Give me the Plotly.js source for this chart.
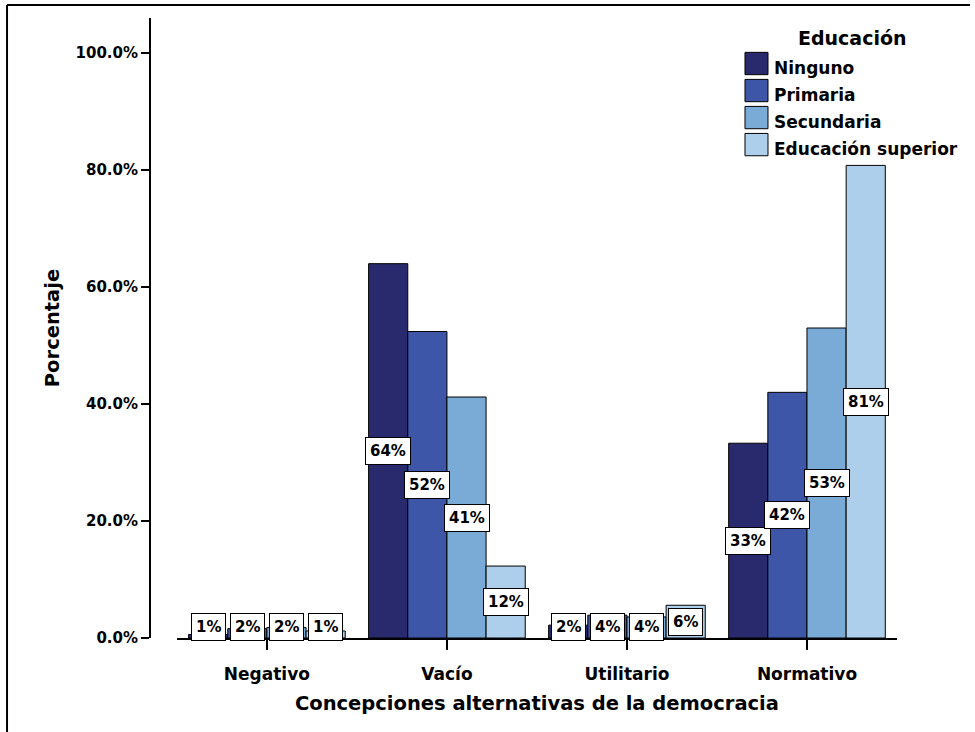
<!DOCTYPE html>
<html>
<head>
<meta charset="utf-8">
<script src="https://cdn.plot.ly/plotly-3.0.1.min.js"></script>
<style>html,body{margin:0;padding:0;background:#fff;}#chart{width:975px;height:732px;}</style>
</head>
<body>
<div id="chart"></div>
<script>
// ---- data ----
const categories = ['Negativo', 'Vacío', 'Utilitario', 'Normativo'];
const seriesNames = ['Ninguno', 'Primaria', 'Secundaria', 'Educación superior'];
const ninguno    = [0.6, 64.0, 2.2, 33.3];
const primaria   = [1.6, 52.4, 3.9, 42.0];
const secundaria = [1.8, 41.2, 3.6, 53.0];
const superior   = [1.2, 12.3, 5.6, 80.8];
const yTickVals  = [0, 20, 40, 60, 80, 100];
const yTickText  = ['0.0%', '20.0%', '40.0%', '60.0%', '80.0%', '100.0%'];
const legendTitle = 'Educación';
const xTitle = 'Concepciones alternativas de la democracia';
const yTitle = 'Porcentaje';

// ---- styling ----
const colors = ['#292a6e', '#3d56a8', '#7aaad6', '#aecfec'];
const FONT = 'DejaVu Sans, Arial, sans-serif';
const bargap = 0.13;
const series = [ninguno, primaria, secundaria, superior];

const traces = series.map((vals, j) => ({
  type: 'bar',
  name: seriesNames[j],
  x: categories,
  y: vals,
  marker: {color: colors[j], line: {color: '#000', width: 1}},
  showlegend: false,
  hoverinfo: 'x+y+name'
}));

// value labels (boxed) placed through the axis scales
const annotations = [];
const w = (1 - bargap) / series.length;
series.forEach((vals, j) => {
  vals.forEach((v, i) => {
    const small = v / 2 < 2.3;
    annotations.push({
      x: i + (j - (series.length - 1) / 2) * w,
      xref: 'x', yref: 'y',
      y: small ? 0 : v / 2,
      yanchor: small ? 'bottom' : 'middle',
      yshift: small ? -3 : 0,
      text: Math.round(v) + '%',
      showarrow: false,
      font: {family: FONT, size: 15, color: '#000', weight: 'bold'},
      bgcolor: '#fff', bordercolor: '#000', borderwidth: 1, borderpad: 4
    });
  });
});

// manual legend (large swatches like the reference)
const shapes = [];
const legX0 = 0.7965, legX1 = 0.8273, legTop = 0.9266, rowH = 0.0436, swH = 0.0360;
annotations.push({
  xref: 'paper', yref: 'paper', x: 0.9398, y: 0.9677, xanchor: 'center', yanchor: 'middle',
  text: legendTitle, showarrow: false,
  font: {family: FONT, size: 19, color: '#000', weight: 'bold'}
});
seriesNames.forEach((nm, j) => {
  const yc = legTop - j * rowH;
  shapes.push({type: 'rect', xref: 'paper', yref: 'paper', x0: legX0, x1: legX1,
    y0: yc - swH / 2, y1: yc + swH / 2, fillcolor: colors[j], line: {color: '#000', width: 1}});
  annotations.push({xref: 'paper', yref: 'paper', x: 0.8327, y: yc, xanchor: 'left', yanchor: 'middle',
    yshift: -4, text: nm, showarrow: false,
    font: {family: FONT, size: 17, color: '#000', weight: 'bold'}});
});

// outer frame (left and top edges)
shapes.push({type: 'line', xref: 'paper', yref: 'paper', x0: -0.1914, x1: -0.1914, y0: 1.021, y1: -0.2, line: {color: '#000', width: 2}});
shapes.push({type: 'line', xref: 'paper', yref: 'paper', x0: -0.1914, x1: 1.0977, y0: 1.021, y1: 1.021, line: {color: '#000', width: 2}});

const layout = {
  width: 975, height: 732,
  margin: {l: 150, r: 78, t: 18, b: 94, pad: 0},
  paper_bgcolor: '#fff', plot_bgcolor: '#fff',
  barmode: 'group', bargap: bargap, bargroupgap: 0,
  showlegend: false,
  font: {family: FONT, color: '#000'},
  xaxis: {
    type: 'category', domain: [0.036, 1], range: [-0.5, 3.5],
    showline: true, linecolor: '#000', linewidth: 1.5,
    ticks: 'outside', ticklen: 10, tickwidth: 1.5, tickcolor: '#000',
    ticklabelstandoff: 10,
    tickfont: {family: FONT, size: 17, color: '#000', weight: 'bold'},
    showgrid: false, zeroline: false,
    title: {text: xTitle, font: {family: FONT, size: 19.5, color: '#000', weight: 'bold'}, standoff: 13}
  },
  yaxis: {
    anchor: 'free', position: 0, range: [0, 106],
    tickmode: 'array', tickvals: yTickVals, ticktext: yTickText,
    showline: true, linecolor: '#000', linewidth: 2,
    ticks: 'outside', ticklen: 8, tickwidth: 1.5, tickcolor: '#000',
    tickfont: {family: FONT, size: 15, color: '#000', weight: 'bold'},
    showgrid: false, zeroline: false,
    title: {text: yTitle, font: {family: FONT, size: 19.5, color: '#000', weight: 'bold'}, standoff: 10}
  },
  annotations: annotations,
  shapes: shapes
};

Plotly.newPlot('chart', traces, layout, {displayModeBar: false, staticPlot: true});
</script>
</body>
</html>
